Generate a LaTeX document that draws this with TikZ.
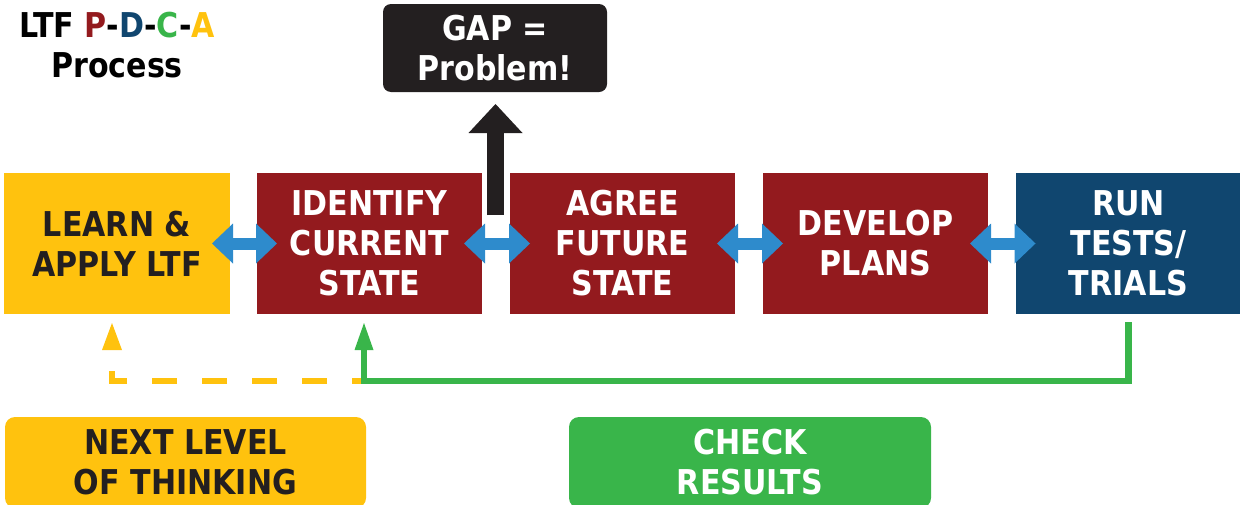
\documentclass[tikz,border=0pt]{standalone}
\usepackage{fontspec}
\setmainfont{DejaVu Sans}[FakeStretch=0.88]
\usetikzlibrary{arrows.meta}
\definecolor{ltfyellow}{HTML}{FFC20E}
\definecolor{ltfred}{HTML}{931A1E}
\definecolor{ltfblue}{HTML}{10466F}
\definecolor{ltflight}{HTML}{2E8BCC}
\definecolor{ltfgreen}{HTML}{39B54A}
\definecolor{ltfblack}{HTML}{231F20}
\begin{document}
\begin{tikzpicture}[x=0.5pt,y=-0.5pt,
  every node/.style={inner sep=0pt,outer sep=0pt,align=center,
    font=\fontsize{17.1}{20}\selectfont\bfseries},
  stepbox/.style={minimum width=113pt,minimum height=70.5pt},
  redbox/.style={stepbox,fill=ltfred,text=white},
  labelbox/.style={minimum width=181pt,minimum height=45.5pt,rounded corners=5pt},
  dblarrow/.style={draw=ltflight,line width=6pt,
    {Triangle[length=10.5pt,width=20pt,line width=0pt]}-{Triangle[length=10.5pt,width=20pt,line width=0pt]}},
  gaparrow/.style={draw=ltfblack,line width=8.5pt,-{Triangle[length=14.5pt,width=27pt,line width=0pt]}},
  greenline/.style={draw=ltfgreen,line width=3.25pt,line join=miter,-{Triangle[length=13.5pt,width=9.5pt,line width=0pt]}},
  yellowdash/.style={draw=ltfyellow,line width=3pt,dash pattern=on 12.5pt off 12.5pt,dash phase=6.5pt,
    -{Triangle[length=13.5pt,width=10pt,line width=0pt]}}
]
\useasboundingbox (0,0) rectangle (1240,504);
\clip (0,0) rectangle (1240,504);

% title
\node (title) at (117,45) {LTF \textcolor{ltfred}{P}-\textcolor{ltfblue}{D}-\textcolor{ltfgreen}{C}-\textcolor{ltfyellow}{A}\\Process};

% gap box
\node[fill=ltfblack,text=white,minimum width=112pt,minimum height=44pt,rounded corners=4pt] (gap) at (495,48) {GAP =\\Problem!};

% step boxes
\node[stepbox,fill=ltfyellow,text=ltfblack] (learn) at (117,243.5) {LEARN \&\\APPLY LTF};
\node[redbox,minimum width=112.5pt] (ident) at (369.5,243.5) {IDENTIFY\\CURRENT\\STATE};
\node[redbox,minimum width=112.5pt] (agree) at (622.5,243.5) {AGREE\\FUTURE\\STATE};
\node[redbox,minimum width=112.5pt] (develop) at (875.5,243.5) {DEVELOP\\PLANS};
\node[stepbox,fill=ltfblue,text=white] (run) at (1128.5,243.5) {RUN\\TESTS/\\TRIALS};

% bottom labels
\node[labelbox,fill=ltfyellow,text=ltfblack,minimum width=180.5pt] (next) at (185.5,462.5) {NEXT LEVEL\\OF THINKING};
\node[labelbox,fill=ltfgreen,text=white] (check) at (750,462.5) {CHECK\\RESULTS};

% double arrows
\draw[dblarrow] ([xshift=-9pt]learn.east) -- ([xshift=10pt]ident.west);
\draw[dblarrow] ([xshift=-9pt]ident.east) -- ([xshift=10pt]agree.west);
\draw[dblarrow] ([xshift=-9pt]agree.east) -- ([xshift=10pt]develop.west);
\draw[dblarrow] ([xshift=-9pt]develop.east) -- ([xshift=10pt]run.west);

% gap arrow
\coordinate (gapfoot) at (495.5,215);
\draw[gaparrow,shorten >=6pt] (gapfoot) -- (gap.south -| gapfoot);

% loop back
\coordinate (loopcorner) at (364,381);
\draw[yellowdash] (loopcorner) -| ([xshift=-2.5pt,yshift=-4.5pt]learn.south);
\draw[greenline] ([yshift=-4pt]run.south) |- (loopcorner) -- ([xshift=-2.75pt,yshift=-4.5pt]ident.south);
\end{tikzpicture}
\end{document}
